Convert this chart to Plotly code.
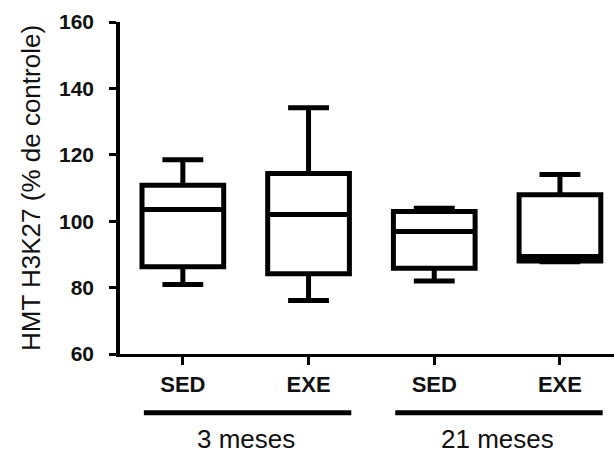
import plotly.graph_objects as go

# ---- data ----
categories = ["SED", "EXE", "SED", "EXE"]
positions = [0, 1, 2, 3]
q1 = [86.3, 84.2, 85.8, 88.0]
median = [103.5, 102.0, 96.9, 89.4]
q3 = [110.8, 114.4, 102.9, 108.0]
lowerfence = [80.9, 76.1, 82.0, 87.8]
upperfence = [118.5, 134.2, 103.9, 114.1]

groups = ["3 meses", "21 meses"]
group_members = [[0, 1], [2, 3]]

y_ticks = [60, 80, 100, 120, 140, 160]
y_title = "HMT H3K27 (% de controle)"

FONT = "Liberation Sans, Arial, sans-serif"

fig = go.Figure()
fig.add_trace(go.Box(
    x=positions,
    q1=q1, median=median, q3=q3,
    lowerfence=lowerfence, upperfence=upperfence,
    width=0.65,
    whiskerwidth=0.5,
    fillcolor="white",
    line=dict(color="black", width=5),
    boxpoints=False,
    showlegend=False,
    hoverinfo="skip",
))

shapes = []
annotations = []
for name, members in zip(groups, group_members):
    x0 = min(members) - 0.31
    x1 = max(members) + 0.34
    shapes.append(dict(type="line", xref="x", yref="paper",
                       x0=x0, x1=x1, y0=-0.177, y1=-0.177,
                       line=dict(color="black", width=5)))
    annotations.append(dict(x=sum(members) / len(members), y=-0.257,
                            xref="x", yref="paper", text=name,
                            showarrow=False, xanchor="center", yanchor="middle",
                            font=dict(family=FONT, size=26, color="#111")))

fig.update_layout(
    width=614, height=458,
    margin=dict(l=120, r=0, t=22, b=104),
    paper_bgcolor="white", plot_bgcolor="white",
    shapes=shapes, annotations=annotations,
    font=dict(family=FONT, color="#111"),
)
fig.update_xaxes(
    range=[-0.5, 3.43],
    tickvals=positions, ticktext=categories,
    showgrid=False, zeroline=False,
    showline=True, linecolor="black", linewidth=3,
    ticks="outside", ticklen=8, tickwidth=3, tickcolor="black",
    ticklabelstandoff=1,
    tickfont=dict(family=FONT, size=22, color="#111", weight="bold"),
)
fig.update_yaxes(
    range=[60, 160],
    tickvals=y_ticks,
    showgrid=False, zeroline=False,
    showline=True, linecolor="black", linewidth=3.5,
    ticks="outside", ticklen=7, tickwidth=3, tickcolor="black",
    ticklabelstandoff=11,
    tickfont=dict(family=FONT, size=21, color="#111", weight="bold"),
    title=dict(text=y_title, standoff=12,
               font=dict(family=FONT, size=26, color="#111")),
)

fig.write_html("out.html")
